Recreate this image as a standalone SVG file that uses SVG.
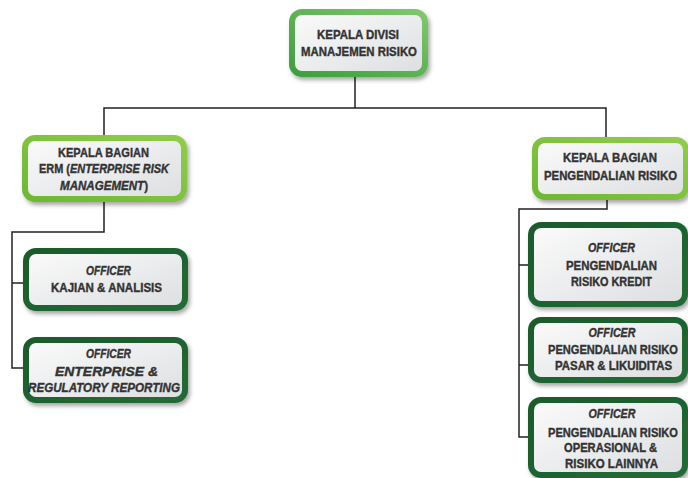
<svg xmlns="http://www.w3.org/2000/svg" width="688" height="478" viewBox="0 0 688 478">
<defs>
<linearGradient id="fill" x1="0" y1="0" x2="1" y2="1">
<stop offset="0" stop-color="#fbfbfb"/>
<stop offset="1" stop-color="#dcdee0"/>
</linearGradient>
<linearGradient id="gTop" x1="0" y1="1" x2="1" y2="0">
<stop offset="0" stop-color="#3f9e3f"/>
<stop offset="1" stop-color="#7ec86a"/>
</linearGradient>
<linearGradient id="gMid" x1="0" y1="1" x2="1" y2="0">
<stop offset="0" stop-color="#6fb833"/>
<stop offset="1" stop-color="#8fcc4a"/>
</linearGradient>
<linearGradient id="gOff" x1="0" y1="0" x2="1" y2="1">
<stop offset="0" stop-color="#1a5a2c"/>
<stop offset="1" stop-color="#236b35"/>
</linearGradient>
<filter id="sh" x="-10%" y="-10%" width="125%" height="135%">
<feDropShadow dx="2" dy="3" stdDeviation="2" flood-color="#000" flood-opacity="0.35"/>
</filter>
</defs>
<style>
.box{fill:url(#fill);stroke-width:6;filter:url(#sh)}
.top{stroke:url(#gTop)}
.mid{stroke:url(#gMid)}
.off{stroke:url(#gOff)}
text{font-family:"Liberation Sans",Arial,sans-serif;font-weight:bold;font-size:13.5px;fill:#333;stroke:#333;stroke-width:0.4;text-anchor:middle}
.i{font-style:italic}
.con{fill:none;stroke:#222;stroke-width:1.5}
</style>
<g id="connectors">
<path class="con" d="M355,77 V108 M104,135 V108 H606 V137"/>
<path class="con" d="M104,202 V232 H12 V368 H26 M12,283 H26"/>
<path class="con" d="M607,199 V209 H519 V437 H531 M519,265 H531 M519,365 H531"/>
</g>
<g id="kepala-divisi">
<rect class="box top" x="292" y="12" width="133" height="62" rx="10"/>
<text x="358" y="39" textLength="82" lengthAdjust="spacingAndGlyphs">KEPALA DIVISI</text>
<text x="359" y="56" textLength="116" lengthAdjust="spacingAndGlyphs">MANAJEMEN RISIKO</text>
</g>
<g id="kepala-bagian-erm">
<rect class="box mid" x="25" y="138" width="159" height="61" rx="10"/>
<text x="103.5" y="157" textLength="91" lengthAdjust="spacingAndGlyphs">KEPALA BAGIAN</text>
<text x="104" y="173" textLength="130" lengthAdjust="spacingAndGlyphs">ERM (<tspan class="i">ENTERPRISE RISK</tspan></text>
<text x="104" y="190" textLength="88" lengthAdjust="spacingAndGlyphs"><tspan class="i">MANAGEMENT</tspan>)</text>
</g>
<g id="kepala-bagian-pengendalian">
<rect class="box mid" x="535" y="140" width="151" height="57" rx="10"/>
<text x="610" y="162" textLength="94" lengthAdjust="spacingAndGlyphs">KEPALA BAGIAN</text>
<text x="610.5" y="180" textLength="133" lengthAdjust="spacingAndGlyphs">PENGENDALIAN RISIKO</text>
</g>
<g id="officer-kajian">
<rect class="box off" x="26" y="251" width="159" height="57" rx="10"/>
<text class="i" x="108.5" y="275" textLength="45" lengthAdjust="spacingAndGlyphs">OFFICER</text>
<text x="106.5" y="292" textLength="111" lengthAdjust="spacingAndGlyphs">KAJIAN &amp; ANALISIS</text>
</g>
<g id="officer-enterprise">
<rect class="box off" x="26" y="340" width="159" height="60" rx="10"/>
<text class="i" x="108.5" y="358" textLength="45" lengthAdjust="spacingAndGlyphs">OFFICER</text>
<text class="i" x="106.5" y="376" textLength="103" lengthAdjust="spacingAndGlyphs">ENTERPRISE &amp;</text>
<text class="i" x="104" y="392" textLength="152" lengthAdjust="spacingAndGlyphs">REGULATORY REPORTING</text>
</g>
<g id="officer-kredit">
<rect class="box off" x="531" y="225" width="154" height="79" rx="10"/>
<text class="i" x="611.5" y="252" textLength="47" lengthAdjust="spacingAndGlyphs">OFFICER</text>
<text x="611.5" y="270" textLength="91" lengthAdjust="spacingAndGlyphs">PENGENDALIAN</text>
<text x="611.5" y="286" textLength="81" lengthAdjust="spacingAndGlyphs">RISIKO KREDIT</text>
</g>
<g id="officer-pasar">
<rect class="box off" x="531" y="320" width="154" height="60" rx="10"/>
<text class="i" x="612" y="337" textLength="47" lengthAdjust="spacingAndGlyphs">OFFICER</text>
<text x="613" y="354" textLength="130" lengthAdjust="spacingAndGlyphs">PENGENDALIAN RISIKO</text>
<text x="613.5" y="370" textLength="117" lengthAdjust="spacingAndGlyphs">PASAR &amp; LIKUIDITAS</text>
</g>
<g id="officer-operasional">
<rect class="box off" x="531" y="400" width="154" height="75" rx="10"/>
<text class="i" x="612" y="418" textLength="47" lengthAdjust="spacingAndGlyphs">OFFICER</text>
<text x="613" y="437" textLength="130" lengthAdjust="spacingAndGlyphs">PENGENDALIAN RISIKO</text>
<text x="610.5" y="452" textLength="93" lengthAdjust="spacingAndGlyphs">OPERASIONAL &amp;</text>
<text x="611.5" y="468" textLength="93" lengthAdjust="spacingAndGlyphs">RISIKO LAINNYA</text>
</g>
</svg>
